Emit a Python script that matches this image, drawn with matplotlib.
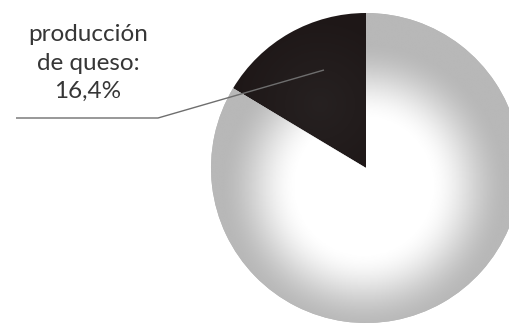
import numpy as np
import matplotlib
matplotlib.use('Agg')
import matplotlib.pyplot as plt

# share of milk going to cheese vs the rest
labels = ['producción de queso', 'resto']
shares = [16.4, 83.6]
label_text = 'producción\nde queso:\n16,4%'

W, H = 510, 324
fig = plt.figure(figsize=(W / 100, H / 100), dpi=100)
ax = fig.add_axes([0, 0, 1, 1])

cx, cy, rad = 366, 156, 155
wedges, _ = ax.pie(shares, startangle=90, counterclock=True,
                   colors=['#1e1717', '#b6b6b6'], radius=rad, center=(cx, cy),
                   wedgeprops=dict(linewidth=0))

# soft radial shading on the big slice: white centre fading to grey at the rim
xs = np.linspace(cx - rad, cx + rad, 400)
ys = np.linspace(cy - rad, cy + rad, 400)
X, Y = np.meshgrid(xs, ys)
r = np.hypot(X - cx + 2, Y - cy + 18)
t = np.clip((r - 65) / 80, 0, 1)
t = t * t * (3 - 2 * t)
shade = 1 - 0.28 * t
img = ax.imshow(shade, cmap='gray', vmin=0, vmax=1, origin='lower',
                extent=(cx - rad, cx + rad, cy - rad, cy + rad),
                interpolation='bilinear', zorder=2)
img.set_clip_path(wedges[1])

# slight lift in the dark slice toward its middle
dark = np.clip(1 - np.hypot(X - 320, Y - 220) / 90, 0, 1)
dimg = ax.imshow(np.dstack([np.full_like(dark, 0.25)] * 3 + [dark * 0.25]),
                 origin='lower', extent=(cx - rad, cx + rad, cy - rad, cy + rad),
                 interpolation='bilinear', zorder=2)
dimg.set_clip_path(wedges[0])

# leader line from the label into the dark slice
ax.plot([16, 158, 324], [H - 118, H - 118, H - 70], color='#6e6e6e', lw=1.0,
        zorder=3, solid_capstyle='butt')

ax.text(88, H - 63, label_text, ha='center', va='center', fontsize=17.5,
        family=['Lato', 'DejaVu Sans'], color='#363636', linespacing=1.45)

ax.set_xlim(0, W)
ax.set_ylim(0, H)
ax.set_aspect('auto')
ax.axis('off')

fig.savefig('out.png', dpi=100, facecolor='white')
